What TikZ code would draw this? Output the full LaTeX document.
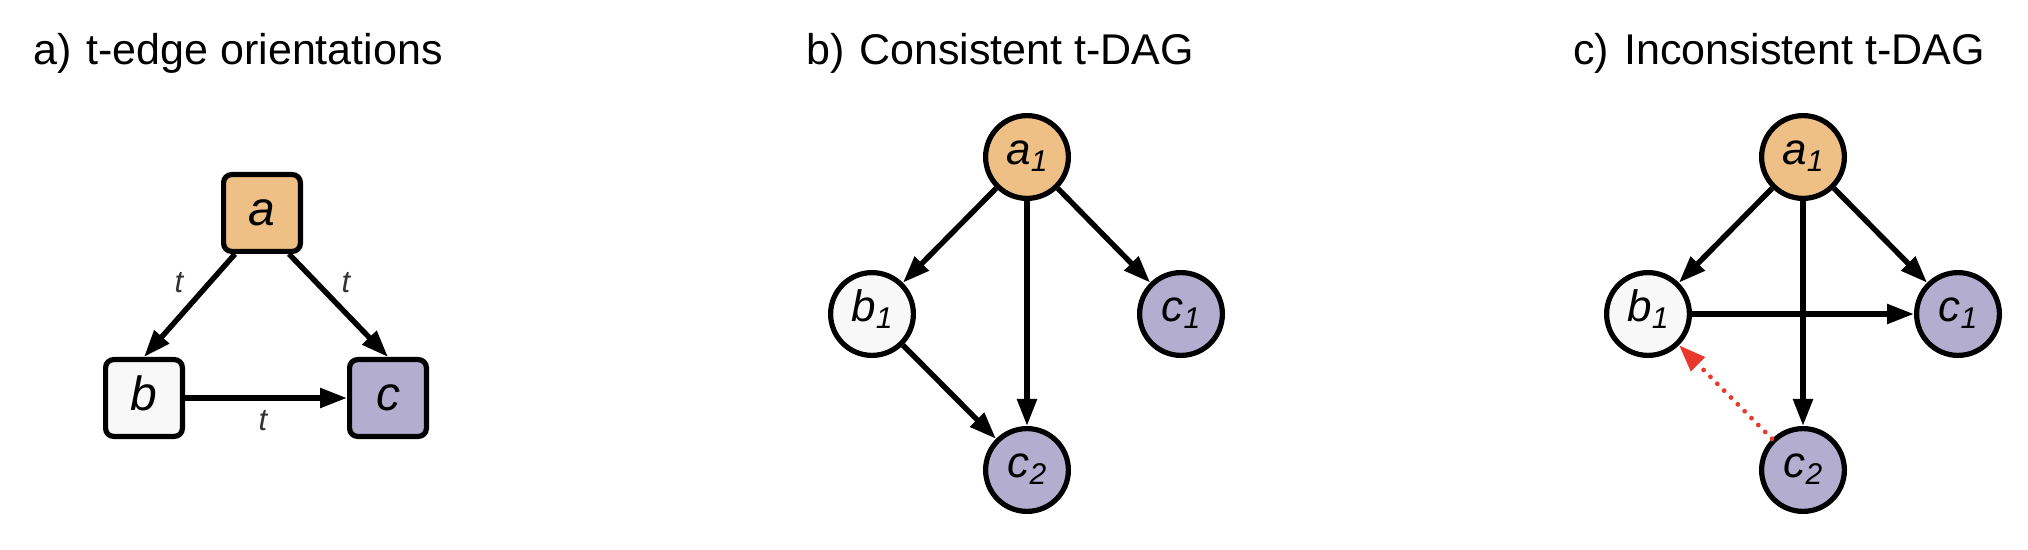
\documentclass[tikz,border=0pt]{standalone}
\usepackage{fontspec}
\setmainfont{Liberation Sans}
\usetikzlibrary{arrows.meta}
\definecolor{cOrange}{HTML}{EEC086}
\definecolor{cPurple}{HTML}{B3AED0}
\definecolor{cWhite}{HTML}{F8F8F8}
\definecolor{cRed}{HTML}{E8392A}
\definecolor{cLabel}{HTML}{333333}
\newcommand{\nlab}[2]{#1\raisebox{-3.5pt}{\fontsize{15}{15}\selectfont #2}}
\begin{document}
\begin{tikzpicture}[x=0.5pt,y=-0.5pt,
  boxnode/.style={draw=black, line width=2.6pt, rounded corners=4pt, minimum size=38.4pt, inner sep=0pt,
    font=\fontsize{24}{24}\selectfont\itshape, text height=12.5pt, text depth=0pt},
  circnode/.style={draw=black, circle, line width=2.6pt, minimum size=41.4pt, inner sep=0pt,
    font=\fontsize{22}{22}\selectfont\itshape, text height=11.4pt, text depth=3.5pt},
  title/.style={anchor=base west, inner sep=0pt, font=\fontsize{21.5}{21.5}\selectfont},
  edge/.style={line width=2.7pt, -{Triangle[length=13.5pt,width=9.5pt]}},
  badedge/.style={draw=cRed, line width=2.4pt, line cap=round, dash pattern=on 0pt off 4.85pt,
    -{Triangle[length=13.5pt,width=9.5pt,fill=cRed]}},
  tlabel/.style={font=\fontsize{15.5}{15.5}\selectfont\itshape, text=cLabel, inner sep=0pt}
]
\useasboundingbox (0,0) rectangle (2028,550);

% titles
\node[title] (ta) at (33,65) {a)\hspace{1.5pt} t-edge orientations};
\node[title] (tb) at (806,65) {b)\hspace{1.5pt} Consistent t-DAG};
\node[title] (tc) at (1573,65) {c)\hspace{1.5pt} Inconsistent t-DAG};

% panel a
\node[boxnode, fill=cOrange] (a) at (262,213) {a};
\node[boxnode, fill=cWhite] (b) at (144,398) {b};
\node[boxnode, fill=cPurple] (c) at (388,398) {c};
\draw[edge] ([xshift=-13.5pt]a.south) -- (b.north);
\draw[edge] ([xshift=13.5pt]a.south) -- (c.north);
\draw[edge] (b.east) -- (c.west);
\node[tlabel] (t1) at (179,283) {t};
\node[tlabel] (t2) at (346,283) {t};
\node[tlabel] (t3) at (263,421) {t};

% panel b
\node[circnode, fill=cOrange] (a1) at (1027,157) {\nlab{a}{1}};
\node[circnode, fill=cWhite] (b1) at (872,314) {\nlab{b}{1}};
\node[circnode, fill=cPurple] (c1) at (1181,314) {\nlab{c}{1}};
\node[circnode, fill=cPurple] (c2) at (1027,470) {\nlab{c}{2}};
\draw[edge] (a1) -- (b1);
\draw[edge] (a1) -- (c1);
\draw[edge] (a1) -- (c2);
\draw[edge] (b1) -- (c2);

% panel c
\node[circnode, fill=cOrange] (A1) at (1803,157) {\nlab{a}{1}};
\node[circnode, fill=cWhite] (B1) at (1648,314) {\nlab{b}{1}};
\node[circnode, fill=cPurple] (C1) at (1958,314) {\nlab{c}{1}};
\node[circnode, fill=cPurple] (C2) at (1803,470) {\nlab{c}{2}};
\draw[edge] (A1) -- (B1);
\draw[edge] (A1) -- (C1);
\draw[edge] (A1) -- (C2);
\draw[edge] (B1) -- (C1);
\draw[badedge] (C2) -- (B1);
\end{tikzpicture}
\end{document}
